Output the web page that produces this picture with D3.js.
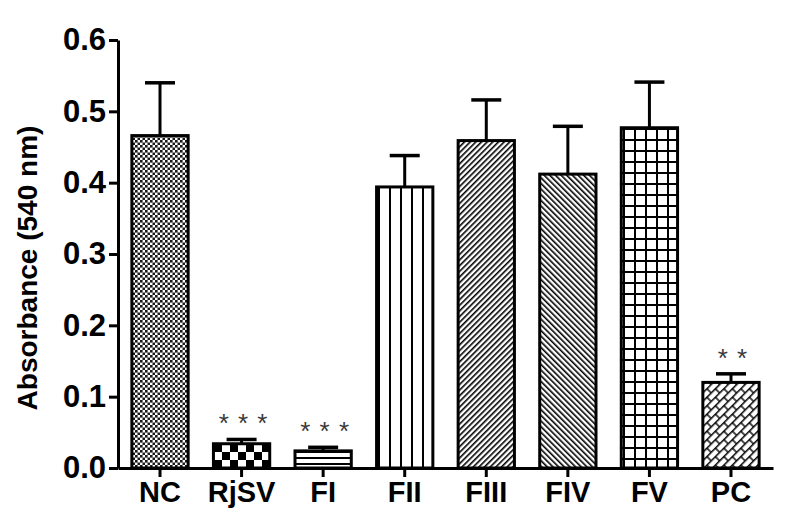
<!DOCTYPE html>
<html>
<head>
<meta charset="utf-8">
<script src="https://cdn.jsdelivr.net/npm/d3@7"></script>
<style>
  body { margin: 0; background: #fff; }
  text { font-family: "Liberation Sans", Arial, sans-serif; }
</style>
</head>
<body>
<div id="chart"></div>
<script>
// data
var categories = ["NC", "RjSV", "FI", "FII", "FIII", "FIV", "FV", "PC"];
var means = [0.466, 0.034, 0.024, 0.394, 0.459, 0.412, 0.477, 0.120];
var errs = [0.074, 0.006, 0.005, 0.044, 0.057, 0.067, 0.064, 0.012];
var stars = ["", "* * *", "* * *", "", "", "", "", "* *"];
var patterns = ["dots", "check", "hlines", "vlines", "diagR", "diagL", "grid", "brick"];
var yTicks = [0, 0.1, 0.2, 0.3, 0.4, 0.5, 0.6];

var w = 789;
var h = 528;
var margin = {left: 118, right: 16, top: 40, bottom: 60};

var svg = d3.select("#chart")
    .append("svg")
    .attr("width", w)
    .attr("height", h);

// fill patterns
var defs = svg.append("defs");

var p = defs.append("pattern").attr("id", "dots").attr("patternUnits", "userSpaceOnUse")
    .attr("width", 5).attr("height", 5);
p.append("rect").attr("width", 5).attr("height", 5).attr("fill", "#fff");
p.append("rect").attr("x", 0).attr("y", 0).attr("width", 2.6).attr("height", 2.6).attr("fill", "#1a1a1a");
p.append("rect").attr("x", 2.5).attr("y", 2.5).attr("width", 2.6).attr("height", 2.6).attr("fill", "#1a1a1a");

p = defs.append("pattern").attr("id", "check").attr("patternUnits", "userSpaceOnUse")
    .attr("width", 16).attr("height", 16).attr("x", 214).attr("y", 444);
p.append("rect").attr("width", 16).attr("height", 16).attr("fill", "#fff");
p.append("rect").attr("x", 0).attr("y", 0).attr("width", 8).attr("height", 8).attr("fill", "#000");
p.append("rect").attr("x", 8).attr("y", 8).attr("width", 8).attr("height", 8).attr("fill", "#000");

p = defs.append("pattern").attr("id", "hlines").attr("patternUnits", "userSpaceOnUse")
    .attr("width", 10).attr("height", 6).attr("y", 453);
p.append("rect").attr("width", 10).attr("height", 6).attr("fill", "#fff");
p.append("rect").attr("x", 0).attr("y", 4).attr("width", 10).attr("height", 2).attr("fill", "#000");

p = defs.append("pattern").attr("id", "vlines").attr("patternUnits", "userSpaceOnUse")
    .attr("width", 11).attr("height", 10).attr("x", 378);
p.append("rect").attr("width", 11).attr("height", 10).attr("fill", "#fff");
p.append("rect").attr("x", 0).attr("y", 0).attr("width", 2).attr("height", 10).attr("fill", "#000");

p = defs.append("pattern").attr("id", "diagR").attr("patternUnits", "userSpaceOnUse")
    .attr("width", 4).attr("height", 10).attr("patternTransform", "rotate(45)");
p.append("rect").attr("width", 4).attr("height", 10).attr("fill", "#fff");
p.append("rect").attr("width", 1.6).attr("height", 10).attr("fill", "#000");

p = defs.append("pattern").attr("id", "diagL").attr("patternUnits", "userSpaceOnUse")
    .attr("width", 4).attr("height", 10).attr("patternTransform", "rotate(-45)");
p.append("rect").attr("width", 4).attr("height", 10).attr("fill", "#fff");
p.append("rect").attr("width", 1.6).attr("height", 10).attr("fill", "#000");

p = defs.append("pattern").attr("id", "grid").attr("patternUnits", "userSpaceOnUse")
    .attr("width", 11).attr("height", 11).attr("x", 623).attr("y", 128);
p.append("rect").attr("width", 11).attr("height", 11).attr("fill", "#fff");
p.append("rect").attr("width", 2).attr("height", 11).attr("fill", "#000");
p.append("rect").attr("width", 11).attr("height", 2).attr("fill", "#000");

p = defs.append("pattern").attr("id", "brick").attr("patternUnits", "userSpaceOnUse")
    .attr("width", 12).attr("height", 12).attr("patternTransform", "rotate(-45)");
p.append("rect").attr("width", 12).attr("height", 12).attr("fill", "#fff");
p.append("path").attr("d", "M0,0.7H12M0,6.7H12M3,0V6.7M9,6.7V12")
    .attr("stroke", "#000").attr("stroke-width", 1.4).attr("fill", "none");

// scales
var x = d3.scaleBand()
    .domain(categories)
    .range([margin.left, w - margin.right])
    .paddingInner(0.31)
    .paddingOuter(0.17);

var y = d3.scaleLinear()
    .domain([0, 0.6])
    .range([h - margin.bottom, margin.top]);

var data = categories.map(function(c, i) {
  return {cat: c, mean: means[i], err: errs[i], star: stars[i], pat: patterns[i]};
});

// bars
svg.selectAll("rect.bar")
  .data(data)
  .enter()
  .append("rect")
  .attr("class", "bar")
  .attr("x", function(d) { return x(d.cat); })
  .attr("y", function(d) { return y(d.mean); })
  .attr("width", x.bandwidth())
  .attr("height", function(d) { return y(0) - y(d.mean); })
  .attr("fill", function(d) { return "url(#" + d.pat + ")"; })
  .attr("stroke", "#000")
  .attr("stroke-width", 3);

// error bars (upper only)
var capW = 30;
var eb = svg.selectAll("g.err")
  .data(data)
  .enter()
  .append("g")
  .attr("class", "err");
eb.append("line")
  .attr("x1", function(d) { return x(d.cat) + x.bandwidth() / 2; })
  .attr("x2", function(d) { return x(d.cat) + x.bandwidth() / 2; })
  .attr("y1", function(d) { return y(d.mean); })
  .attr("y2", function(d) { return y(d.mean + d.err); })
  .attr("stroke", "#000").attr("stroke-width", 3);
eb.append("line")
  .attr("x1", function(d) { return x(d.cat) + x.bandwidth() / 2 - capW / 2; })
  .attr("x2", function(d) { return x(d.cat) + x.bandwidth() / 2 + capW / 2; })
  .attr("y1", function(d) { return y(d.mean + d.err); })
  .attr("y2", function(d) { return y(d.mean + d.err); })
  .attr("stroke", "#000").attr("stroke-width", 3.5);

// significance stars
svg.selectAll("text.star")
  .data(data.filter(function(d) { return d.star !== ""; }))
  .enter()
  .append("text")
  .attr("class", "star")
  .attr("x", function(d) { return x(d.cat) + x.bandwidth() / 2 + 2; })
  .attr("y", function(d) { return y(d.mean + d.err) - 7; })
  .attr("text-anchor", "middle")
  .attr("font-size", "26px")
  .attr("letter-spacing", "1px")
  .attr("fill", "#3a3a3a")
  .text(function(d) { return d.star; });

// axes
var yAxis = d3.axisLeft(y)
    .tickValues(yTicks)
    .tickFormat(d3.format(".1f"))
    .tickSize(9)
    .tickSizeOuter(0)
    .tickPadding(3);

var gy = svg.append("g")
    .attr("transform", "translate(" + margin.left + ",0)")
    .call(yAxis);
gy.select(".domain").attr("stroke-width", 3);
gy.selectAll(".tick line").attr("stroke-width", 3);
gy.selectAll(".tick text")
  .attr("font-size", "31px")
  .attr("font-weight", "bold")
  .attr("fill", "#000");

var xAxis = d3.axisBottom(x)
    .tickSize(9)
    .tickSizeOuter(0)
    .tickPadding(4);

var gx = svg.append("g")
    .attr("transform", "translate(0," + y(0) + ")")
    .call(xAxis);
gx.select(".domain").attr("stroke-width", 3);
gx.selectAll(".tick line").attr("stroke-width", 3);
gx.selectAll(".tick text")
  .attr("font-size", "29px")
  .attr("font-weight", "bold")
  .attr("fill", "#000");

// y axis title
svg.append("text")
  .attr("transform", "translate(37,268) rotate(-90)")
  .attr("text-anchor", "middle")
  .attr("font-size", "28px")
  .attr("font-weight", "bold")
  .attr("fill", "#000")
  .text("Absorbance (540 nm)");
</script>
</body>
</html>
